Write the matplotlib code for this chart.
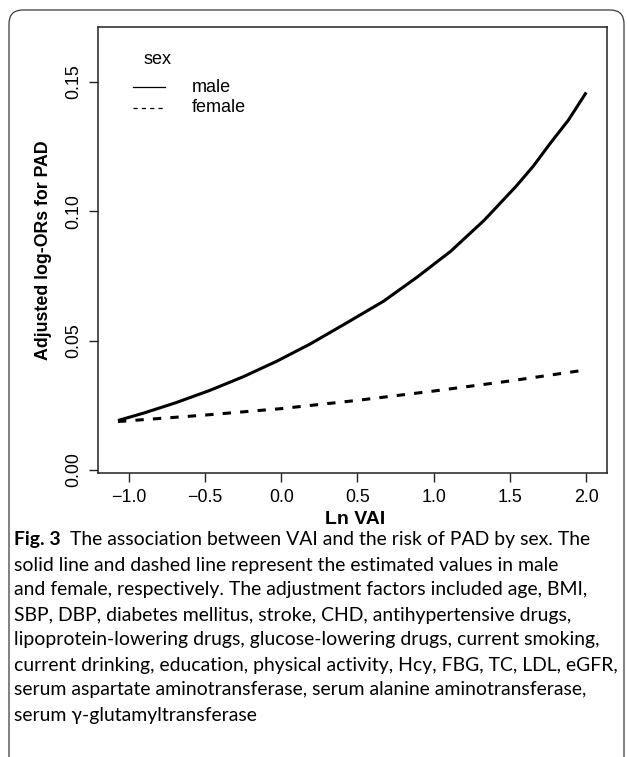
import matplotlib
matplotlib.use("Agg")
import matplotlib.pyplot as plt
from matplotlib.patches import FancyBboxPatch
from matplotlib.lines import Line2D

# ---------------- data ----------------
ln_vai_male = [-1.07, -0.90, -0.69, -0.47, -0.25, -0.03, 0.19, 0.41, 0.67, 0.89,
               1.11, 1.33, 1.435, 1.54, 1.653, 1.76, 1.883, 2.0]
logor_male = [0.0191, 0.0220, 0.0260, 0.0307, 0.0360, 0.0420, 0.0487, 0.0562, 0.0652,
              0.0745, 0.0845, 0.0965, 0.1031, 0.1097, 0.1175, 0.1260, 0.1353, 0.1460]
ln_vai_female = [-1.07, -0.5, 0.0, 0.5, 1.0, 1.5, 2.0]
logor_female = [0.0187, 0.0212, 0.0237, 0.0269, 0.0305, 0.0344, 0.0387]
x_ticks = [-1.0, -0.5, 0.0, 0.5, 1.0, 1.5, 2.0]
y_ticks = [0.00, 0.05, 0.10, 0.15]
legend_title = "sex"
legend_labels = ["male", "female"]
x_label = "Ln VAI"
y_label = "Adjusted log-ORs for PAD"
caption_bold = "Fig. 3"
caption_lines = [
    "The association between VAI and the risk of PAD by sex. The",
    "solid line and dashed line represent the estimated values in male",
    "and female, respectively. The adjustment factors included age, BMI,",
    "SBP, DBP, diabetes mellitus, stroke, CHD, antihypertensive drugs,",
    "lipoprotein-lowering drugs, glucose-lowering drugs, current smoking,",
    "current drinking, education, physical activity, Hcy, FBG, TC, LDL, eGFR,",
    "serum aspartate aminotransferase, serum alanine aminotransferase,",
    "serum \u03b3-glutamyltransferase",
]

# ---------------- figure ----------------
W, H = 627, 757
DPI = 100
plt.rcParams['font.family'] = ['Liberation Sans', 'DejaVu Sans']
plt.rcParams['lines.scale_dashes'] = False
fig = plt.figure(figsize=(W / DPI, H / DPI), dpi=DPI)

def px2fig(x, y):
    return x / W, 1 - y / H

# rounded frame (open at the bottom)
frame = FancyBboxPatch((9 / W, -0.1), (624 - 9) / W, 1 - 10 / H + 0.1,
                       boxstyle="round,pad=0,rounding_size=0.022",
                       transform=fig.transFigure, fill=False,
                       edgecolor="#3a3a3a", linewidth=0.9, mutation_aspect=W / H)
fig.add_artist(frame)

ax_l, ax_r, ax_t, ax_b = 98.3, 607, 27, 473
ax = fig.add_axes([ax_l / W, 1 - ax_b / H, (ax_r - ax_l) / W, (ax_b - ax_t) / H])

ax.plot(ln_vai_male, logor_male, color="black", lw=2.2, solid_capstyle="butt",
        solid_joinstyle="round")
ax.plot(ln_vai_female, logor_female, color="black", lw=2.2, dashes=(6.0, 6.6),
        dash_capstyle="butt")

ax.set_xlim(-1.199, 2.136)
ax.set_ylim(-0.0012, 0.1713)
ax.set_xticks(x_ticks)
ax.set_xticklabels([f"{v:.1f}".replace("-", "\u2212") for v in x_ticks])
ax.set_yticks(y_ticks)
ax.set_yticklabels([f"{v:.2f}" for v in y_ticks], rotation=90, va="center")
ax.tick_params(direction="out", length=6.5, width=1.0, pad=5, labelsize=12.9,
               color="#222222")
for s in ax.spines.values():
    s.set_linewidth(1.1)
    s.set_color("#222222")

ax.set_xlabel(x_label, fontsize=14, fontweight="bold")
ax.xaxis.set_label_coords((355 - ax_l) / (ax_r - ax_l), (ax_b - 520) / (ax_b - ax_t))
ax.xaxis.label.set_verticalalignment("center")
ax.set_ylabel(y_label, fontsize=12.8, fontweight="bold")
ax.yaxis.set_label_coords((44 - ax_l) / (ax_r - ax_l), 0.5)
ax.yaxis.label.set_verticalalignment("center")

# legend (drawn manually to mimic R's legend())
def ax_xy(px, py):
    return (px - ax_l) / (ax_r - ax_l), (ax_b - py) / (ax_b - ax_t)

tx, ty = ax_xy(157, 60)
ax.text(tx, ty, legend_title, transform=ax.transAxes, ha="center", va="center",
        fontsize=13)
styles = [dict(ls="-"), dict(ls=(0, (3.0, 3.0)))]
for i, (lab, st) in enumerate(zip(legend_labels, styles)):
    yy = 87 + 21 * i
    x0, y0 = ax_xy(133, yy)
    x1, _ = ax_xy(165, yy)
    ax.add_line(Line2D([x0, x1], [y0, y0], transform=ax.transAxes, color="black",
                       lw=0.9, **st))
    lx, _ = ax_xy(192, yy)
    ax.text(lx, y0, lab, transform=ax.transAxes, ha="left", va="center",
            fontsize=13)

# caption: size chosen so the widest line fits inside the frame like the reference
cap_font = ['Lato', 'DejaVu Sans']
fig.canvas.draw()
renderer = fig.canvas.get_renderer()
widths = []
for line in caption_lines[1:]:
    probe = fig.text(0, 0, line, family=cap_font, fontsize=10)
    widths.append(probe.get_window_extent(renderer).width)
    probe.remove()
cap_size = 10 * (617 - 14) / max(widths)

x_start = 14
for i, line in enumerate(caption_lines):
    yy = 540 + 25 * i
    fx, fy = px2fig(x_start, yy)
    if i == 0:
        tb = fig.text(fx, fy, caption_bold, family=cap_font, fontweight="bold",
                      fontsize=cap_size, va="center", ha="left")
        bb = tb.get_window_extent(renderer)
        fig.text((bb.x1 + 9) / W, fy, line, family=cap_font, fontsize=cap_size,
                 va="center", ha="left")
    else:
        fig.text(fx, fy, line, family=cap_font, fontsize=cap_size, va="center",
                 ha="left")

fig.savefig("out.png", dpi=DPI)
